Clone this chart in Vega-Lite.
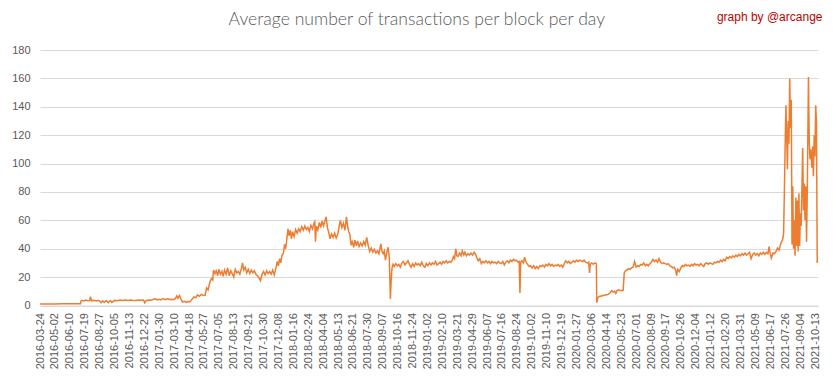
{
  "$schema": "https://vega.github.io/schema/vega-lite/v6.json",
  "width": 778,
  "height": 255.5,
  "autosize": {"type": "none"},
  "padding": {"left": 40, "top": 50, "right": 15, "bottom": 73.5},
  "background": "white",
  "title": {
    "text": "Average number of transactions per block per day",
    "anchor": "middle",
    "frame": "bounds",
    "font": "Lato",
    "fontWeight": 300,
    "fontSize": 17.6,
    "color": "#595959",
    "dy": 23
  },
  "config": {
    "view": {"stroke": null},
    "axis": {"labelFont": "Liberation Sans", "labelColor": "#595959", "labelFontSize": 11}
  },
  "data": {
    "values": [
      {"d":"2016-03-24","v":1.1},{"d":"2016-04-15","v":1.1},{"d":"2016-05-01","v":1.1},{"d":"2016-05-20","v":1.2},{"d":"2016-06-10","v":1.2},{"d":"2016-06-25","v":1.2},{"d":"2016-07-08","v":1.2},
      {"d":"2016-07-09","v":3.0},{"d":"2016-07-12","v":3.6},{"d":"2016-07-17","v":3.2},{"d":"2016-07-22","v":3.8},{"d":"2016-07-27","v":3.4},{"d":"2016-08-01","v":3.5},{"d":"2016-08-03","v":6.2},{"d":"2016-08-06","v":3.3},{"d":"2016-08-12","v":3.6},{"d":"2016-08-18","v":3.2},{"d":"2016-08-24","v":3.7},{"d":"2016-08-31","v":2.0},{"d":"2016-09-04","v":3.3},{"d":"2016-09-08","v":2.1},{"d":"2016-09-13","v":3.4},{"d":"2016-09-19","v":2.0},{"d":"2016-09-24","v":3.5},{"d":"2016-09-28","v":2.2},{"d":"2016-10-05","v":3.6},{"d":"2016-10-12","v":3.4},{"d":"2016-10-19","v":3.8},{"d":"2016-10-26","v":3.5},{"d":"2016-11-02","v":3.9},{"d":"2016-11-09","v":3.6},{"d":"2016-11-16","v":3.8},{"d":"2016-11-23","v":3.5},{"d":"2016-11-30","v":3.6},{"d":"2016-12-07","v":3.9},{"d":"2016-12-14","v":3.7},{"d":"2016-12-20","v":3.8},{"d":"2016-12-23","v":1.9},{"d":"2016-12-27","v":3.6},{"d":"2017-01-02","v":3.9},{"d":"2017-01-08","v":3.7},{"d":"2017-01-14","v":4.2},{"d":"2017-01-19","v":4.9},{"d":"2017-01-24","v":3.9},{"d":"2017-01-29","v":4.4},{"d":"2017-02-03","v":3.9},{"d":"2017-02-09","v":4.8},{"d":"2017-02-14","v":4.1},{"d":"2017-02-20","v":4.7},{"d":"2017-02-25","v":4.2},{"d":"2017-03-02","v":4.4},{"d":"2017-03-08","v":4.1},{"d":"2017-03-13","v":4.8},{"d":"2017-03-17","v":6.8},{"d":"2017-03-20","v":5.0},{"d":"2017-03-24","v":7.0},{"d":"2017-03-28","v":4.5},{"d":"2017-04-01","v":2.5},{"d":"2017-04-06","v":3.0},{"d":"2017-04-11","v":2.2},{"d":"2017-04-16","v":2.8},{"d":"2017-04-21","v":2.6},
      {"d":"2017-04-26","v":4.5},{"d":"2017-05-01","v":6.0},{"d":"2017-05-06","v":5.5},{"d":"2017-05-10","v":7.5},{"d":"2017-05-15","v":6.5},{"d":"2017-05-20","v":7.8},{"d":"2017-05-25","v":7.0},{"d":"2017-05-30","v":7.2},{"d":"2017-06-03","v":12.5},{"d":"2017-06-07","v":11.0},{"d":"2017-06-12","v":17.0},{"d":"2017-06-16","v":19.0},{"d":"2017-06-19","v":18.0},{"d":"2017-06-21","v":25.0},{"d":"2017-06-25","v":22.5},{"d":"2017-06-28","v":24.5},{"d":"2017-07-02","v":21.0},{"d":"2017-07-05","v":25.5},{"d":"2017-07-09","v":22.0},{"d":"2017-07-13","v":24.0},{"d":"2017-07-16","v":20.5},{"d":"2017-07-20","v":25.0},{"d":"2017-07-24","v":22.0},{"d":"2017-07-28","v":26.5},{"d":"2017-08-01","v":21.0},{"d":"2017-08-05","v":24.5},{"d":"2017-08-09","v":22.5},{"d":"2017-08-13","v":20.0},{"d":"2017-08-17","v":25.5},{"d":"2017-08-21","v":23.0},{"d":"2017-08-25","v":24.0},{"d":"2017-08-29","v":22.0},{"d":"2017-09-02","v":26.0},{"d":"2017-09-05","v":30.0},{"d":"2017-09-08","v":25.0},{"d":"2017-09-12","v":27.0},{"d":"2017-09-16","v":23.0},{"d":"2017-09-20","v":25.5},{"d":"2017-09-24","v":22.5},{"d":"2017-09-28","v":25.0},{"d":"2017-10-02","v":23.0},{"d":"2017-10-06","v":24.5},{"d":"2017-10-10","v":22.0},{"d":"2017-10-14","v":21.0},{"d":"2017-10-18","v":19.5},{"d":"2017-10-22","v":17.5},{"d":"2017-10-26","v":22.0},{"d":"2017-10-30","v":24.0},{"d":"2017-11-03","v":21.5},{"d":"2017-11-07","v":24.5},{"d":"2017-11-11","v":22.5},{"d":"2017-11-15","v":24.0},{"d":"2017-11-19","v":22.0},{"d":"2017-11-23","v":25.0},{"d":"2017-11-27","v":21.5},{"d":"2017-12-01","v":26.0},{"d":"2017-12-05","v":31.0},{"d":"2017-12-08","v":28.0},{"d":"2017-12-11","v":33.0},{"d":"2017-12-14","v":30.0},{"d":"2017-12-17","v":35.0},{"d":"2017-12-21","v":37.0},{"d":"2017-12-24","v":43.0},{"d":"2017-12-27","v":40.0},{"d":"2017-12-30","v":47.0},{"d":"2018-01-02","v":54.0},{"d":"2018-01-05","v":49.0},{"d":"2018-01-08","v":53.0},{"d":"2018-01-11","v":47.0},{"d":"2018-01-14","v":52.0},{"d":"2018-01-18","v":48.5},{"d":"2018-01-22","v":53.5},{"d":"2018-01-26","v":51.0},{"d":"2018-01-30","v":54.0},{"d":"2018-02-03","v":52.0},{"d":"2018-02-07","v":55.5},{"d":"2018-02-11","v":53.0},{"d":"2018-02-15","v":56.0},{"d":"2018-02-19","v":53.5},{"d":"2018-02-23","v":55.0},{"d":"2018-02-27","v":52.0},{"d":"2018-03-03","v":56.5},{"d":"2018-03-07","v":54.0},{"d":"2018-03-11","v":58.0},{"d":"2018-03-13","v":59.0},{"d":"2018-03-15","v":45.0},{"d":"2018-03-17","v":56.0},{"d":"2018-03-21","v":53.0},{"d":"2018-03-25","v":58.5},{"d":"2018-03-29","v":55.0},{"d":"2018-04-01","v":59.5},{"d":"2018-04-05","v":56.0},{"d":"2018-04-09","v":60.0},{"d":"2018-04-12","v":62.5},{"d":"2018-04-15","v":55.0},{"d":"2018-04-19","v":51.0},{"d":"2018-04-22","v":47.0},{"d":"2018-04-26","v":50.5},{"d":"2018-04-30","v":48.0},{"d":"2018-05-04","v":51.0},{"d":"2018-05-08","v":47.5},{"d":"2018-05-12","v":50.0},{"d":"2018-05-16","v":56.0},{"d":"2018-05-19","v":60.0},{"d":"2018-05-23","v":55.0},{"d":"2018-05-27","v":58.0},{"d":"2018-05-31","v":53.0},{"d":"2018-06-04","v":62.5},{"d":"2018-06-07","v":56.0},{"d":"2018-06-10","v":52.0},
      {"d":"2018-06-13","v":50.0},{"d":"2018-06-16","v":42.5},{"d":"2018-06-19","v":45.0},{"d":"2018-06-23","v":41.0},{"d":"2018-06-26","v":46.0},{"d":"2018-06-30","v":42.0},{"d":"2018-07-03","v":45.5},{"d":"2018-07-07","v":41.5},{"d":"2018-07-11","v":44.0},{"d":"2018-07-15","v":42.0},{"d":"2018-07-19","v":45.0},{"d":"2018-07-23","v":42.5},{"d":"2018-07-27","v":48.0},{"d":"2018-07-31","v":42.0},{"d":"2018-08-04","v":38.0},{"d":"2018-08-08","v":40.5},{"d":"2018-08-12","v":37.5},{"d":"2018-08-16","v":39.5},{"d":"2018-08-20","v":37.0},{"d":"2018-08-24","v":38.5},{"d":"2018-08-28","v":36.5},{"d":"2018-09-02","v":43.5},{"d":"2018-09-05","v":38.0},{"d":"2018-09-08","v":36.5},{"d":"2018-09-11","v":38.5},{"d":"2018-09-14","v":32.0},{"d":"2018-09-18","v":38.0},{"d":"2018-09-21","v":41.0},{"d":"2018-09-24","v":34.0},{"d":"2018-09-27","v":4.6},{"d":"2018-09-29","v":18.0},{"d":"2018-10-01","v":26.0},{"d":"2018-10-04","v":29.0},{"d":"2018-10-07","v":27.5},{"d":"2018-10-11","v":29.5},{"d":"2018-10-15","v":28.0},{"d":"2018-10-19","v":29.0},{"d":"2018-10-23","v":27.0},{"d":"2018-10-27","v":30.0},{"d":"2018-10-31","v":31.0},{"d":"2018-11-04","v":28.5},{"d":"2018-11-08","v":30.0},{"d":"2018-11-12","v":31.5},{"d":"2018-11-16","v":29.0},{"d":"2018-11-20","v":27.0},{"d":"2018-11-24","v":29.5},{"d":"2018-11-28","v":27.5},{"d":"2018-12-02","v":30.0},{"d":"2018-12-06","v":28.5},{"d":"2018-12-10","v":29.5},{"d":"2018-12-14","v":28.0},{"d":"2018-12-18","v":30.5},{"d":"2018-12-22","v":28.0},{"d":"2018-12-26","v":27.0},{"d":"2018-12-30","v":29.5},{"d":"2019-01-03","v":28.0},{"d":"2019-01-07","v":30.0},{"d":"2019-01-11","v":28.5},{"d":"2019-01-15","v":30.0},{"d":"2019-01-19","v":29.0},{"d":"2019-01-23","v":31.0},{"d":"2019-01-27","v":28.5},{"d":"2019-01-31","v":29.5},{"d":"2019-02-04","v":30.5},{"d":"2019-02-08","v":29.0},{"d":"2019-02-12","v":31.0},{"d":"2019-02-16","v":30.0},{"d":"2019-02-20","v":31.5},{"d":"2019-02-24","v":30.0},{"d":"2019-02-28","v":31.0},{"d":"2019-03-04","v":30.5},{"d":"2019-03-08","v":32.0},{"d":"2019-03-11","v":34.5},{"d":"2019-03-14","v":33.0},{"d":"2019-03-17","v":40.0},{"d":"2019-03-20","v":35.0},{"d":"2019-03-23","v":34.5},{"d":"2019-03-27","v":37.0},{"d":"2019-03-31","v":35.0},{"d":"2019-04-03","v":38.5},{"d":"2019-04-07","v":35.5},{"d":"2019-04-10","v":37.5},{"d":"2019-04-14","v":35.0},{"d":"2019-04-18","v":36.5},{"d":"2019-04-22","v":35.5},{"d":"2019-04-26","v":37.0},{"d":"2019-04-30","v":35.5},{"d":"2019-05-04","v":37.5},{"d":"2019-05-08","v":36.0},{"d":"2019-05-12","v":33.0},{"d":"2019-05-15","v":31.5},{"d":"2019-05-19","v":33.0},{"d":"2019-05-23","v":29.5},{"d":"2019-05-27","v":31.0},{"d":"2019-05-31","v":30.0},{"d":"2019-06-04","v":31.5},{"d":"2019-06-08","v":30.0},{"d":"2019-06-12","v":31.0},{"d":"2019-06-16","v":29.5},{"d":"2019-06-20","v":31.0},{"d":"2019-06-24","v":30.0},{"d":"2019-06-28","v":30.5},{"d":"2019-07-02","v":29.5},{"d":"2019-07-06","v":31.0},{"d":"2019-07-10","v":30.0},{"d":"2019-07-14","v":29.5},
      {"d":"2019-07-18","v":31.0},{"d":"2019-07-22","v":28.5},{"d":"2019-07-26","v":30.5},{"d":"2019-07-30","v":31.5},{"d":"2019-08-03","v":30.0},{"d":"2019-08-07","v":32.0},{"d":"2019-08-11","v":31.0},{"d":"2019-08-15","v":32.5},{"d":"2019-08-19","v":31.5},{"d":"2019-08-23","v":32.0},{"d":"2019-08-27","v":30.5},{"d":"2019-08-30","v":31.0},{"d":"2019-09-01","v":8.8},{"d":"2019-09-03","v":30.5},{"d":"2019-09-06","v":31.5},{"d":"2019-09-10","v":30.0},{"d":"2019-09-13","v":34.0},{"d":"2019-09-17","v":30.5},{"d":"2019-09-21","v":29.0},{"d":"2019-09-25","v":27.5},{"d":"2019-09-29","v":28.0},{"d":"2019-10-03","v":26.5},{"d":"2019-10-07","v":28.0},{"d":"2019-10-11","v":26.0},{"d":"2019-10-15","v":27.5},{"d":"2019-10-19","v":26.0},{"d":"2019-10-23","v":28.0},{"d":"2019-10-27","v":27.5},{"d":"2019-10-31","v":28.5},{"d":"2019-11-04","v":27.0},{"d":"2019-11-08","v":29.0},{"d":"2019-11-12","v":28.0},{"d":"2019-11-16","v":29.5},{"d":"2019-11-20","v":28.0},{"d":"2019-11-24","v":29.0},{"d":"2019-11-28","v":27.5},{"d":"2019-12-02","v":28.5},{"d":"2019-12-06","v":28.0},{"d":"2019-12-10","v":29.0},{"d":"2019-12-14","v":27.5},{"d":"2019-12-18","v":28.5},{"d":"2019-12-22","v":27.0},{"d":"2019-12-26","v":29.5},{"d":"2019-12-30","v":31.5},{"d":"2020-01-03","v":30.0},{"d":"2020-01-07","v":31.0},{"d":"2020-01-11","v":29.5},{"d":"2020-01-15","v":30.5},{"d":"2020-01-19","v":31.5},{"d":"2020-01-23","v":30.5},{"d":"2020-01-27","v":32.0},{"d":"2020-01-31","v":31.0},{"d":"2020-02-04","v":32.0},{"d":"2020-02-08","v":31.5},{"d":"2020-02-12","v":31.0},{"d":"2020-02-16","v":32.0},{"d":"2020-02-20","v":30.5},{"d":"2020-02-24","v":30.0},{"d":"2020-02-28","v":30.5},{"d":"2020-03-01","v":23.0},{"d":"2020-03-03","v":29.0},{"d":"2020-03-07","v":30.0},{"d":"2020-03-11","v":29.0},{"d":"2020-03-15","v":30.0},{"d":"2020-03-19","v":29.5},{"d":"2020-03-20","v":2.0},{"d":"2020-03-23","v":5.5},{"d":"2020-03-27","v":6.5},{"d":"2020-03-31","v":6.5},{"d":"2020-04-04","v":7.0},{"d":"2020-04-08","v":7.0},{"d":"2020-04-12","v":7.5},{"d":"2020-04-16","v":7.5},{"d":"2020-04-20","v":8.0},{"d":"2020-04-24","v":9.0},{"d":"2020-04-28","v":10.5},{"d":"2020-05-02","v":9.5},{"d":"2020-05-06","v":10.0},{"d":"2020-05-09","v":8.5},{"d":"2020-05-12","v":10.5},{"d":"2020-05-16","v":11.0},{"d":"2020-05-20","v":10.5},{"d":"2020-05-24","v":10.5},{"d":"2020-05-28","v":10.5},{"d":"2020-05-31","v":23.0},{"d":"2020-06-03","v":24.5},{"d":"2020-06-07","v":25.0},{"d":"2020-06-11","v":26.0},{"d":"2020-06-15","v":25.5},{"d":"2020-06-19","v":26.5},{"d":"2020-06-23","v":27.0},{"d":"2020-06-27","v":31.0},{"d":"2020-07-01","v":27.0},{"d":"2020-07-05","v":28.0},{"d":"2020-07-09","v":27.5},{"d":"2020-07-13","v":29.0},{"d":"2020-07-17","v":28.5},{"d":"2020-07-21","v":30.0},{"d":"2020-07-25","v":28.0},{"d":"2020-07-29","v":29.0},{"d":"2020-08-02","v":28.0},{"d":"2020-08-06","v":29.5},{"d":"2020-08-10","v":30.5},{"d":"2020-08-14","v":32.5},{"d":"2020-08-18","v":31.0},{"d":"2020-08-22","v":32.0},{"d":"2020-08-26","v":30.5},{"d":"2020-08-30","v":33.0},{"d":"2020-09-03","v":30.5},{"d":"2020-09-07","v":29.5},{"d":"2020-09-11","v":30.0},{"d":"2020-09-15","v":29.5},{"d":"2020-09-19","v":29.0},{"d":"2020-09-23","v":29.5},{"d":"2020-09-27","v":28.0},{"d":"2020-10-01","v":27.5},{"d":"2020-10-05","v":26.5},{"d":"2020-10-09","v":27.0},{"d":"2020-10-13","v":24.5},{"d":"2020-10-15","v":21.0},{"d":"2020-10-18","v":25.5},{"d":"2020-10-22","v":24.0},{"d":"2020-10-26","v":26.5},{"d":"2020-10-30","v":28.0},{"d":"2020-11-03","v":27.5},{"d":"2020-11-07","v":29.0},{"d":"2020-11-11","v":28.0},{"d":"2020-11-15","v":28.5},{"d":"2020-11-19","v":27.5},{"d":"2020-11-23","v":29.0},{"d":"2020-11-27","v":28.0},{"d":"2020-12-01","v":29.5},{"d":"2020-12-05","v":28.5},{"d":"2020-12-09","v":29.0},{"d":"2020-12-13","v":28.0},{"d":"2020-12-17","v":29.5},{"d":"2020-12-21","v":28.5},{"d":"2020-12-25","v":27.5},{"d":"2020-12-29","v":29.5},{"d":"2021-01-02","v":30.0},{"d":"2021-01-06","v":29.0},{"d":"2021-01-10","v":30.0},{"d":"2021-01-14","v":29.5},{"d":"2021-01-18","v":29.0},{"d":"2021-01-22","v":30.5},{"d":"2021-01-26","v":30.0},{"d":"2021-01-30","v":31.0},{"d":"2021-02-03","v":30.5},{"d":"2021-02-07","v":32.0},{"d":"2021-02-11","v":31.0},{"d":"2021-02-15","v":32.5},{"d":"2021-02-19","v":31.5},{"d":"2021-02-23","v":34.0},{"d":"2021-02-27","v":33.0},{"d":"2021-03-03","v":34.5},{"d":"2021-03-07","v":33.5},{"d":"2021-03-11","v":35.0},{"d":"2021-03-15","v":34.0},{"d":"2021-03-19","v":35.5},{"d":"2021-03-23","v":34.5},{"d":"2021-03-27","v":36.0},{"d":"2021-03-31","v":35.0},{"d":"2021-04-04","v":36.5},{"d":"2021-04-08","v":35.5},{"d":"2021-04-12","v":37.0},{"d":"2021-04-16","v":35.5},{"d":"2021-04-20","v":36.5},{"d":"2021-04-24","v":37.5},{"d":"2021-04-28","v":33.0},{"d":"2021-05-02","v":36.0},{"d":"2021-05-06","v":37.0},{"d":"2021-05-10","v":35.5},{"d":"2021-05-14","v":36.5},{"d":"2021-05-18","v":35.0},{"d":"2021-05-22","v":37.0},{"d":"2021-05-26","v":36.0},{"d":"2021-05-30","v":37.5},{"d":"2021-06-03","v":36.0},{"d":"2021-06-07","v":37.5},{"d":"2021-06-11","v":36.5},{"d":"2021-06-14","v":41.5},{"d":"2021-06-17","v":36.5},{"d":"2021-06-20","v":33.5},{"d":"2021-06-24","v":37.0},{"d":"2021-06-28","v":36.5},{"d":"2021-07-02","v":38.0},{"d":"2021-07-06","v":40.5},{"d":"2021-07-10","v":39.0},
      {"d":"2021-07-14","v":43.0},{"d":"2021-07-17","v":45.0},{"d":"2021-07-20","v":47.0},{"d":"2021-07-22","v":51.0},{"d":"2021-07-24","v":80.0},{"d":"2021-07-26","v":112.0},{"d":"2021-07-28","v":141.0},{"d":"2021-07-30","v":120.0},{"d":"2021-08-01","v":96.0},{"d":"2021-08-03","v":130.0},{"d":"2021-08-05","v":114.0},{"d":"2021-08-07","v":160.0},{"d":"2021-08-09","v":125.0},{"d":"2021-08-11","v":145.0},{"d":"2021-08-13","v":43.0},{"d":"2021-08-15","v":84.0},{"d":"2021-08-17","v":40.0},{"d":"2021-08-19","v":60.0},{"d":"2021-08-21","v":35.0},{"d":"2021-08-23","v":76.0},{"d":"2021-08-25","v":42.0},{"d":"2021-08-27","v":74.0},{"d":"2021-08-29","v":38.0},{"d":"2021-08-31","v":79.0},{"d":"2021-09-02","v":42.0},{"d":"2021-09-04","v":65.0},{"d":"2021-09-06","v":56.0},{"d":"2021-09-08","v":84.0},{"d":"2021-09-10","v":111.0},{"d":"2021-09-12","v":67.0},{"d":"2021-09-14","v":86.0},{"d":"2021-09-16","v":60.0},{"d":"2021-09-18","v":84.0},{"d":"2021-09-20","v":45.0},{"d":"2021-09-22","v":81.0},{"d":"2021-09-25","v":161.0},{"d":"2021-09-27","v":117.0},{"d":"2021-09-29","v":103.0},{"d":"2021-10-01","v":110.0},{"d":"2021-10-04","v":97.0},{"d":"2021-10-06","v":112.0},{"d":"2021-10-08","v":91.0},{"d":"2021-10-10","v":120.0},{"d":"2021-10-12","v":105.0},{"d":"2021-10-14","v":141.0},{"d":"2021-10-16","v":128.0},{"d":"2021-10-18","v":30.0}
    ]
  },
  "mark": {"type": "line", "color": "#ED7D31", "strokeWidth": 1.5, "clip": false},
  "encoding": {
    "x": {
      "field": "d",
      "type": "temporal",
      "scale": {"type": "utc", "domain": [{"year": 2016, "month": 3, "date": 24, "utc": true}, {"year": 2021, "month": 10, "date": 20, "utc": true}]},
      "axis": {
        "title": null,
        "labelExpr": "utcFormat(datum.value, '%Y-%m-%d')",
        "labelAngle": 270,
        "labelPadding": 7,
        "labelOverlap": false,
        "labelFlush": false,
        "ticks": false,
        "grid": false,
        "domain": true,
        "domainColor": "#d9d9d9",
        "values": [
          {"year":2016,"month":3,"date":24,"utc":true},{"year":2016,"month":5,"date":2,"utc":true},{"year":2016,"month":6,"date":10,"utc":true},{"year":2016,"month":7,"date":19,"utc":true},{"year":2016,"month":8,"date":27,"utc":true},{"year":2016,"month":10,"date":5,"utc":true},{"year":2016,"month":11,"date":13,"utc":true},{"year":2016,"month":12,"date":22,"utc":true},
          {"year":2017,"month":1,"date":30,"utc":true},{"year":2017,"month":3,"date":10,"utc":true},{"year":2017,"month":4,"date":18,"utc":true},{"year":2017,"month":5,"date":27,"utc":true},{"year":2017,"month":7,"date":5,"utc":true},{"year":2017,"month":8,"date":13,"utc":true},{"year":2017,"month":9,"date":21,"utc":true},{"year":2017,"month":10,"date":30,"utc":true},{"year":2017,"month":12,"date":8,"utc":true},
          {"year":2018,"month":1,"date":16,"utc":true},{"year":2018,"month":2,"date":24,"utc":true},{"year":2018,"month":4,"date":4,"utc":true},{"year":2018,"month":5,"date":13,"utc":true},{"year":2018,"month":6,"date":21,"utc":true},{"year":2018,"month":7,"date":30,"utc":true},{"year":2018,"month":9,"date":7,"utc":true},{"year":2018,"month":10,"date":16,"utc":true},{"year":2018,"month":11,"date":24,"utc":true},
          {"year":2019,"month":1,"date":2,"utc":true},{"year":2019,"month":2,"date":10,"utc":true},{"year":2019,"month":3,"date":21,"utc":true},{"year":2019,"month":4,"date":29,"utc":true},{"year":2019,"month":6,"date":7,"utc":true},{"year":2019,"month":7,"date":16,"utc":true},{"year":2019,"month":8,"date":24,"utc":true},{"year":2019,"month":10,"date":2,"utc":true},{"year":2019,"month":11,"date":10,"utc":true},{"year":2019,"month":12,"date":19,"utc":true},
          {"year":2020,"month":1,"date":27,"utc":true},{"year":2020,"month":3,"date":6,"utc":true},{"year":2020,"month":4,"date":14,"utc":true},{"year":2020,"month":5,"date":23,"utc":true},{"year":2020,"month":7,"date":1,"utc":true},{"year":2020,"month":8,"date":9,"utc":true},{"year":2020,"month":9,"date":17,"utc":true},{"year":2020,"month":10,"date":26,"utc":true},{"year":2020,"month":12,"date":4,"utc":true},
          {"year":2021,"month":1,"date":12,"utc":true},{"year":2021,"month":2,"date":20,"utc":true},{"year":2021,"month":3,"date":31,"utc":true},{"year":2021,"month":5,"date":9,"utc":true},{"year":2021,"month":6,"date":17,"utc":true},{"year":2021,"month":7,"date":26,"utc":true},{"year":2021,"month":9,"date":4,"utc":true},{"year":2021,"month":10,"date":13,"utc":true}
        ]
      }
    },
    "y": {
      "field": "v",
      "type": "quantitative",
      "scale": {"domain": [0, 180], "nice": false, "zero": true},
      "axis": {
        "values": [0, 20, 40, 60, 80, 100, 120, 140, 160, 180],
        "labelPadding": 10,
        "ticks": false,
        "domain": false,
        "grid": true,
        "gridColor": "#d9d9d9",
        "gridWidth": 1,
        "title": "graph by @arcange",
        "titleAngle": 0,
        "titleX": 782,
        "titleY": -30,
        "titleAlign": "right",
        "titleBaseline": "alphabetic",
        "titleColor": "#c00000",
        "titleFont": "Liberation Sans",
        "titleFontSize": 12,
        "titleFontWeight": "normal"
      }
    }
  }
}
